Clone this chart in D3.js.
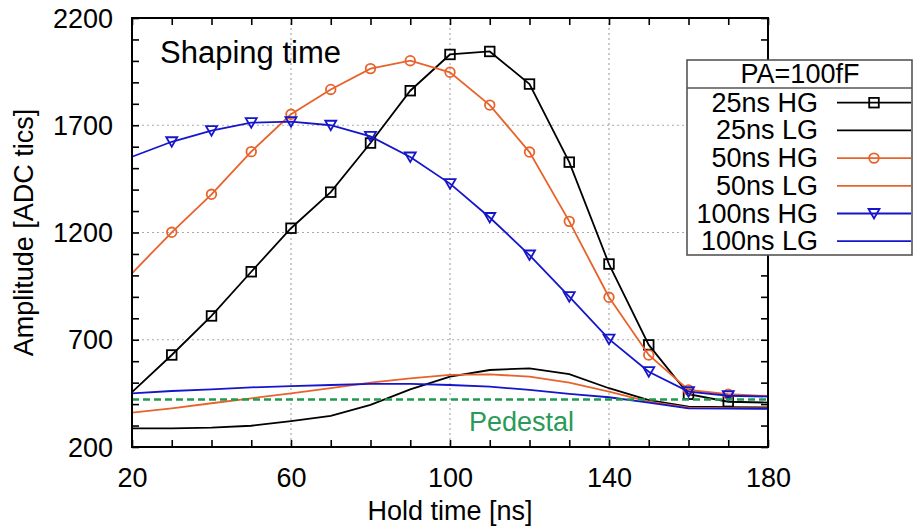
<!DOCTYPE html>
<html><head><meta charset="utf-8">
<script src="https://cdn.jsdelivr.net/npm/d3@7/dist/d3.min.js"></script>
<style>body{margin:0;background:#fff}svg{display:block}text{font-family:"Liberation Sans",Arial,sans-serif}</style>
</head><body><svg id="c" width="917" height="527"></svg>
<script>
const holdTime = [20,30,40,50,60,70,80,90,100,110,120,130,140,150,160,170,180];
const hg25  = [456,629,811,1017,1220,1388,1617,1861,2030,2044,1892,1528,1053,676,446,411,407];
const lg25  = [287,287,290,299,321,345,396,469,528,559,567,540,474,419,388,386,385];
const hg50  = [1010,1201,1378,1577,1751,1867,1964,2001,1947,1794,1575,1252,898,629,466,446,438];
const lg50  = [360,380,404,427,450,474,500,520,536,539,528,500,458,411,383,381,380];
const hg100 = [1553,1623,1675,1712,1717,1700,1648,1552,1428,1270,1095,901,703,551,458,439,435];
const lg100 = [450,461,469,478,484,489,494,494,489,481,466,448,432,407,380,379,378];
const pedestal = 422;
const xTicks = [20,60,100,140,180];
const yTicks = [200,700,1200,1700,2200];
const seriesNames = ["25ns HG","25ns LG","50ns HG","50ns LG","100ns HG","100ns LG"];
const legendTitle = "PA=100fF";

const colors = {k:"#000000", o:"#e8632c", b:"#1515cc", g:"#1f9a4e"};
const series = [
  {name:seriesNames[0], vals:hg25, color:colors.k, marker:"square"},
  {name:seriesNames[1], vals:lg25, color:colors.k, marker:null},
  {name:seriesNames[2], vals:hg50, color:colors.o, marker:"circle"},
  {name:seriesNames[3], vals:lg50, color:colors.o, marker:null},
  {name:seriesNames[4], vals:hg100, color:colors.b, marker:"tri"},
  {name:seriesNames[5], vals:lg100, color:colors.b, marker:null}
];

const L=132,R=768,T=18,B=447;
const svg = d3.select("#c");
const x = d3.scaleLinear().domain([20,180]).range([L,R]);
const y = d3.scaleLinear().domain([200,2200]).range([B,T]);

// grid
const gGrid = svg.append("g").attr("stroke","#aaaaaa").attr("stroke-width",1.2).attr("stroke-dasharray","2,3");
xTicks.slice(1,-1).forEach(v=>gGrid.append("line").attr("x1",x(v)).attr("x2",x(v)).attr("y1",T).attr("y2",B));
yTicks.slice(1,-1).forEach(v=>gGrid.append("line").attr("x1",L).attr("x2",R).attr("y1",y(v)).attr("y2",y(v)));

// axes with inward ticks
const minorX = d3.range(20,181,10), minorY = d3.range(200,2201,100);
const fs = 27;
svg.append("g").attr("transform",`translate(0,${B})`)
  .call(d3.axisBottom(x).tickValues(minorX).tickSize(-7).tickFormat(d=>xTicks.includes(d)?d:""))
  .call(g=>{g.select(".domain").remove();g.selectAll("line").attr("stroke-width",1.6);
    g.selectAll("text").attr("font-size",fs).attr("fill","#000").attr("dy",0).attr("y",40);});
svg.append("g").attr("transform",`translate(0,${T})`)
  .call(d3.axisTop(x).tickValues(minorX).tickSize(-7).tickFormat(""))
  .call(g=>{g.select(".domain").remove();g.selectAll("line").attr("stroke-width",1.6);});
svg.append("g").attr("transform",`translate(${L},0)`)
  .call(d3.axisLeft(y).tickValues(minorY).tickSize(-7).tickFormat(d=>yTicks.includes(d)?d:""))
  .call(g=>{g.select(".domain").remove();g.selectAll("line").attr("stroke-width",1.6);
    g.selectAll("text").attr("font-size",fs).attr("fill","#000").attr("x",-19).attr("dy","0.34em");});
svg.append("g").attr("transform",`translate(${R},0)`)
  .call(d3.axisRight(y).tickValues(minorY).tickSize(-7).tickFormat(""))
  .call(g=>{g.select(".domain").remove();g.selectAll("line").attr("stroke-width",1.6);});

// series
const line = d3.line().x((d,i)=>x(holdTime[i])).y(d=>y(d));
const gs = svg.append("g");
function drawMarker(g,type,cx,cy,color){
  if(type==="square") g.append("rect").attr("x",cx-4.8).attr("y",cy-4.8).attr("width",9.6).attr("height",9.6)
      .attr("fill","none").attr("stroke",color).attr("stroke-width",1.8);
  else if(type==="circle") g.append("circle").attr("cx",cx).attr("cy",cy).attr("r",4.8)
      .attr("fill","none").attr("stroke",color).attr("stroke-width",1.8);
  else if(type==="tri") g.append("path").attr("d",`M${cx-5.5},${cy-4.5}L${cx+5.5},${cy-4.5}L${cx},${cy+5}Z`)
      .attr("fill","none").attr("stroke",color).attr("stroke-width",1.8);
}
series.forEach(s=>{
  gs.append("path").attr("d",line(s.vals)).attr("fill","none").attr("stroke",s.color).attr("stroke-width",1.8);
  if(s.marker) s.vals.forEach((v,i)=>{ const t=holdTime[i]; if(t>20 && t<180) drawMarker(gs,s.marker,x(t),y(v),s.color); });
});

// pedestal
svg.append("line").attr("x1",L).attr("x2",R).attr("y1",y(pedestal)).attr("y2",y(pedestal))
  .attr("stroke",colors.g).attr("stroke-width",2.5).attr("stroke-dasharray","7,4");
svg.append("text").attr("x",x(118)).attr("y",y(pedestal)+32).attr("text-anchor","middle")
  .attr("font-size",fs).attr("fill","#2a9a58").text("Pedestal");

// frame
svg.append("rect").attr("x",L).attr("y",T).attr("width",R-L).attr("height",B-T)
  .attr("fill","none").attr("stroke","#000").attr("stroke-width",2);

// annotation
svg.append("text").attr("x",160).attr("y",63).attr("font-size",31).attr("fill","#000").text("Shaping time");

// axis titles
svg.append("text").attr("x",(L+R)/2).attr("y",520).attr("text-anchor","middle").attr("font-size",fs).text("Hold time [ns]");
svg.append("text").attr("transform",`translate(33,${(T+B)/2}) rotate(-90)`).attr("text-anchor","middle")
  .attr("font-size",fs).text("Amplitude [ADC tics]");

// legend
const lg = svg.append("g");
lg.append("rect").attr("x",687).attr("y",60).attr("width",225).attr("height",195)
  .attr("fill","#fff").attr("stroke","#555").attr("stroke-width",1.6);
lg.append("line").attr("x1",687).attr("x2",912).attr("y1",88).attr("y2",88).attr("stroke","#555").attr("stroke-width",1.6);
lg.append("text").attr("x",800).attr("y",83).attr("text-anchor","middle").attr("font-size",fs).text(legendTitle);
series.forEach((s,i)=>{
  const ly = 102.7 + i*27.7;
  lg.append("text").attr("x",818).attr("y",ly+9).attr("text-anchor","end").attr("font-size",fs).text(s.name);
  lg.append("line").attr("x1",837).attr("x2",911).attr("y1",ly).attr("y2",ly).attr("stroke",s.color).attr("stroke-width",1.8);
  if(s.marker) drawMarker(lg,s.marker,874,ly,s.color);
});
</script></body></html>
